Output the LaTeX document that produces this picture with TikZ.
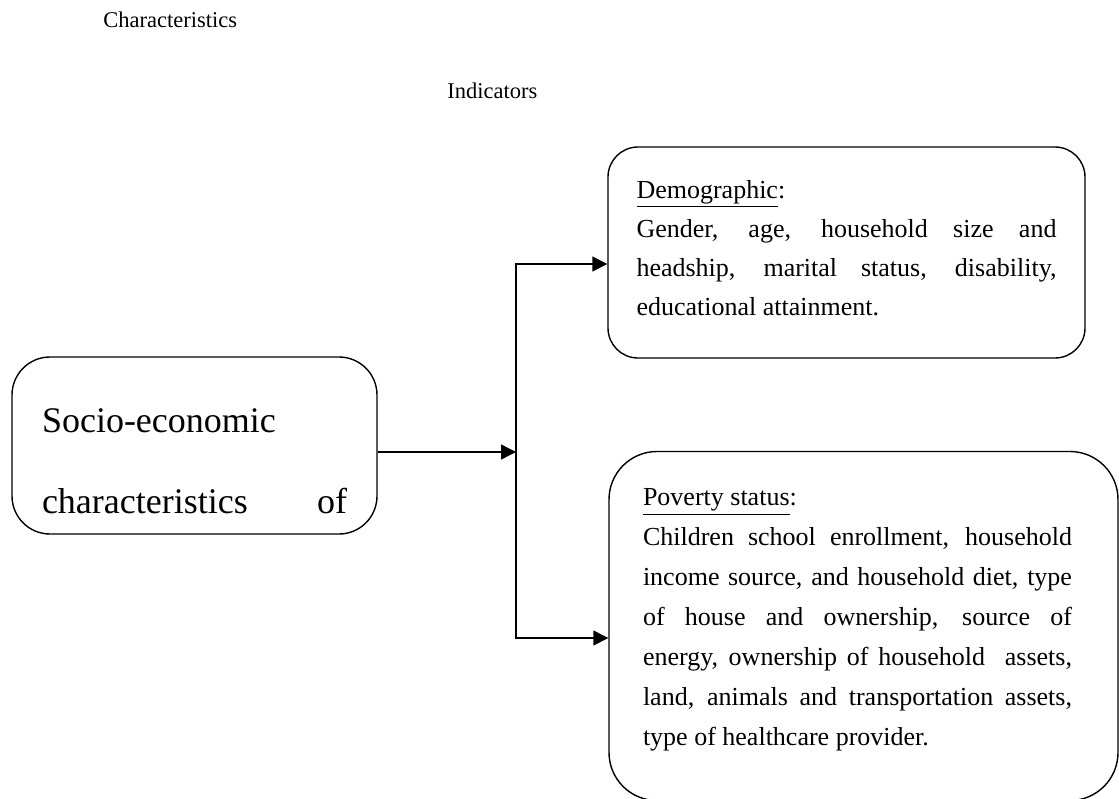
\documentclass[tikz,border=0pt]{standalone}
\usepackage{fontspec}
\setmainfont{Liberation Serif}
\usetikzlibrary{arrows.meta}
\tolerance=10000
\hbadness=10000
\hyphenpenalty=10000

\begin{document}
\begin{tikzpicture}[x=0.5pt, y=-0.5pt]
\tikzset{>={Triangle[length=7.5pt, width=7.5pt]}}
\tikzset{indbox/.style={draw, line width=0.7pt, align=justify, inner ysep=0pt, font=\fontsize{13}{19.5}\selectfont}}
\useasboundingbox (0,0) rectangle (1119,798);

\node[anchor=base west, inner sep=0pt, font=\fontsize{11.25}{13}\selectfont] (charlabel) at (103,27) {Characteristics};
\node[anchor=base west, inner sep=0pt, font=\fontsize{11.25}{13}\selectfont] (indlabel) at (447,98) {Indicators};

\node[draw, line width=0.7pt, rounded corners=19pt, text width=152.5pt, inner xsep=15pt, inner ysep=0pt, text height=37.5pt, text depth=51pt, align=justify, font=\fontsize{18}{40.5}\selectfont] (soc) at (194.5,445.5) {Socio-economic\par characteristics\hfill of};

\node[indbox, rounded corners=15pt, text width=210pt, inner xsep=14.25pt, text height=25.5pt, text depth=80pt] (demo) at (846.5,252.5) {\underline{Demographic}:\par Gender, age, household size and\linebreak headship, marital status, disability,\linebreak educational attainment.};

\node[indbox, rounded corners=24pt, text width=220.5pt, inner xsep=17pt, text height=27pt, text depth=147.5pt, font=\fontsize{13}{20}\selectfont] (pov) at (863.5,626) {\parbox[t]{214.5pt}{\underline{Poverty status}:\par Children school enrollment, household\linebreak income source, and household diet, type\linebreak of house and ownership, source of\linebreak energy, ownership of household\ \ assets,\linebreak land, animals and transportation assets,\linebreak type of healthcare provider.}};

\coordinate (fork) at (516,452);
\coordinate (forktop) at (516,264);
\coordinate (forkbot) at (516,638);
\draw[->, line width=0.7pt] (soc.east |- fork) -- (fork);
\draw[<->, line width=0.7pt] (forktop -| demo.west) -- (forktop) -- (forkbot) -- (forkbot -| pov.west);

\end{tikzpicture}
\end{document}
